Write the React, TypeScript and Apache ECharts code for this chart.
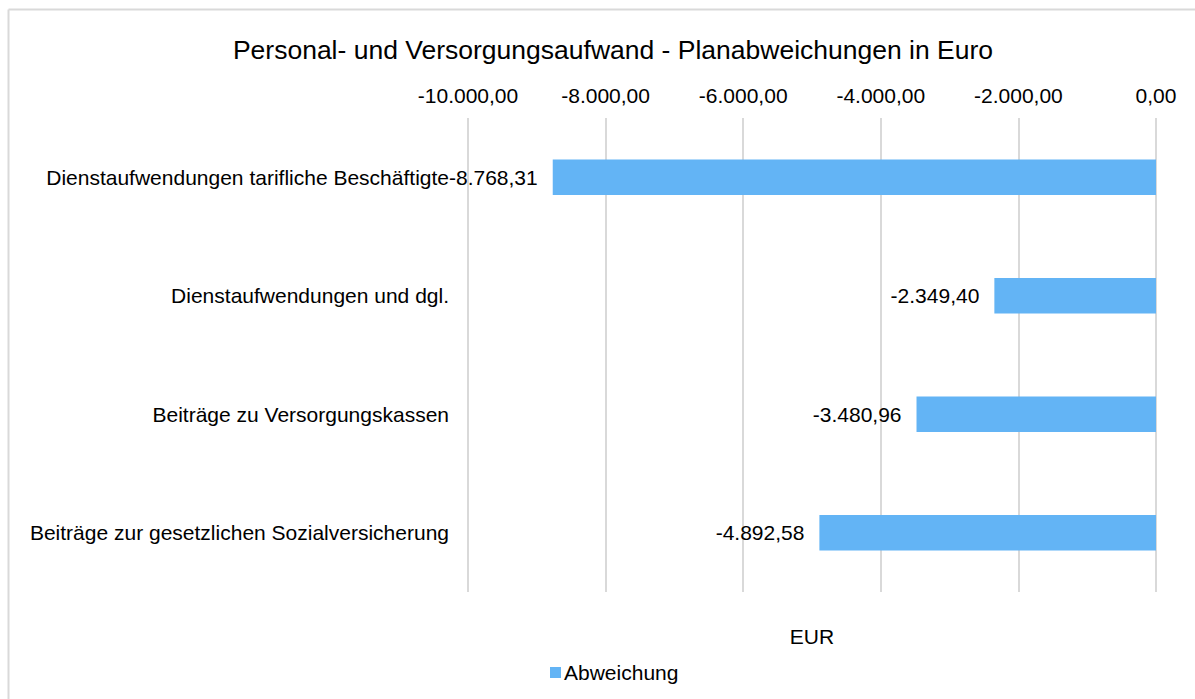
import React, { useEffect, useRef } from "react";
import * as echarts from "echarts";

const categories = [
  "Dienstaufwendungen tarifliche Beschäftigte",
  "Dienstaufwendungen und dgl.",
  "Beiträge zu Versorgungskassen",
  "Beiträge zur gesetzlichen Sozialversicherung",
];
const values = [-8768.31, -2349.4, -3480.96, -4892.58];
const seriesName = "Abweichung";
const titleText = "Personal- und Versorgungsaufwand - Planabweichungen in Euro";
const axisName = "EUR";

const FONT = "'Liberation Sans', Arial, sans-serif";
const FS = 21;

function fmt(v: number): string {
  const neg = v < 0;
  const a = Math.abs(v);
  const fixed = a.toFixed(2);
  const [ip, dp] = fixed.split(".");
  const withDots = ip.replace(/\B(?=(\d{3})+(?!\d))/g, ".");
  return (neg ? "-" : "") + withDots + "," + dp;
}

export default function App() {
  const ref = useRef<HTMLDivElement>(null);
  useEffect(() => {
    document.body.style.margin = "0";
    const chart = echarts.init(ref.current!, null, { renderer: "svg" });
    chart.setOption({
      animation: false,
      backgroundColor: "#ffffff",
      textStyle: { fontFamily: FONT },
      title: {
        text: titleText,
        left: 608,
        top: 31,
        textAlign: "center",
        textStyle: { fontFamily: FONT, fontSize: 26.5, fontWeight: "normal", color: "#000" },
      },
      grid: { left: 468, right: 39, top: 118, height: 474, containLabel: false },
      xAxis: {
        type: "value",
        position: "top",
        min: -10000,
        max: 0,
        interval: 2000,
        axisLine: { show: false },
        axisTick: { show: false },
        axisLabel: {
          formatter: (v: number) => fmt(v),
          fontFamily: FONT,
          fontSize: FS,
          color: "#000",
          margin: 12,
        },
        splitLine: { show: true, lineStyle: { color: "#d9d9d9", width: 2 } },
      },
      yAxis: {
        type: "category",
        data: categories,
        inverse: true,
        axisLine: { show: false },
        axisTick: { show: false },
        axisLabel: { fontFamily: FONT, fontSize: FS, color: "#000", margin: 19 },
      },
      legend: {
        data: [seriesName],
        left: 545,
        top: 657,
        itemWidth: 11,
        itemHeight: 11,
        itemGap: 4,
        textStyle: { fontFamily: FONT, fontSize: FS, color: "#000", padding: [0, 0, 0, -2] },
        icon: "rect",
      },
      series: [
        {
          name: seriesName,
          type: "bar",
          data: values,
          barWidth: "30%",
          itemStyle: { color: "#63B4F5" },
          label: {
            show: true,
            position: "left",
            distance: 15,
            formatter: (p: any) => fmt(p.value),
            fontFamily: FONT,
            fontSize: FS,
            color: "#000",
          },
        },
      ],
      graphic: [
        {
          type: "line",
          shape: { x1: 8.5, y1: 9.5, x2: 1195, y2: 9.5 },
          style: { stroke: "#d9d9d9", lineWidth: 2 },
        },
        {
          type: "line",
          shape: { x1: 8.5, y1: 9.5, x2: 8.5, y2: 699 },
          style: { stroke: "#d9d9d9", lineWidth: 2 },
        },
        {
          type: "text",
          x: 812,
          y: 636,
          style: {
            text: axisName,
            font: FS + "px " + FONT,
            fill: "#000",
            textAlign: "center",
            textVerticalAlign: "middle",
          },
        },
      ],
    });
    return () => chart.dispose();
  }, []);
  return <div ref={ref} style={{ width: 1195, height: 699 }} />;
}
